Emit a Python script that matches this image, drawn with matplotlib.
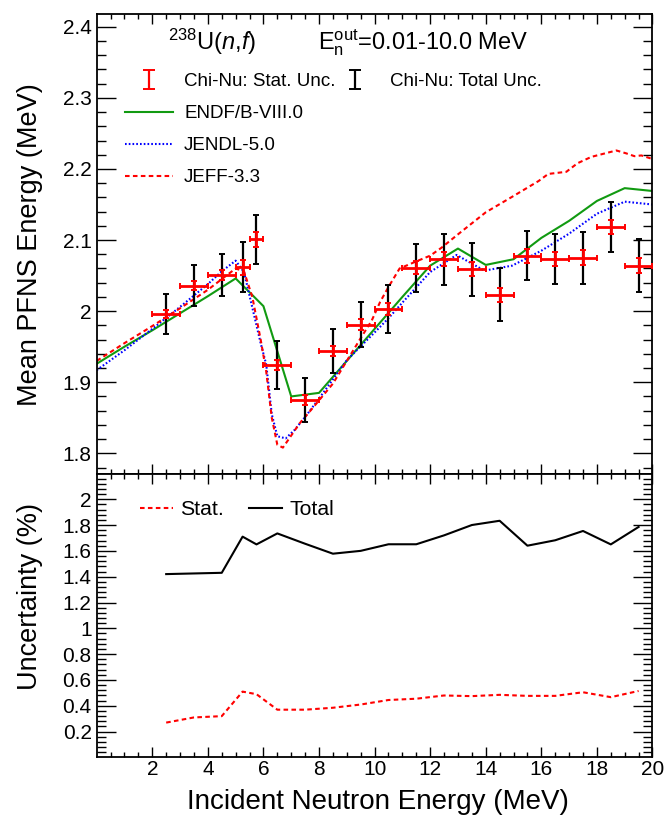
import matplotlib
matplotlib.use("Agg")
import matplotlib.pyplot as plt
from matplotlib.ticker import FixedLocator, FormatStrFormatter
import numpy as np

plt.rcParams["font.family"] = ["Liberation Sans", "DejaVu Sans"]
plt.rcParams["mathtext.fontset"] = "custom"
plt.rcParams["mathtext.rm"] = "Liberation Sans"
plt.rcParams["mathtext.it"] = "Liberation Sans:italic"

# Chi-Nu measured mean PFNS energies
energy = [2.5, 3.5, 4.5, 5.25, 5.75, 6.5, 7.5, 8.5, 9.5, 10.5,
          11.5, 12.5, 13.5, 14.5, 15.5, 16.5, 17.5, 18.5, 19.5]
energy_halfwidth = [0.5, 0.5, 0.5, 0.25, 0.25, 0.5, 0.5, 0.5, 0.5, 0.5,
                    0.5, 0.5, 0.5, 0.5, 0.5, 0.5, 0.5, 0.5, 0.5]
mean_energy = [1.996, 2.036, 2.051, 2.062, 2.101, 1.924, 1.875, 1.944, 1.981, 2.003,
               2.061, 2.073, 2.059, 2.023, 2.078, 2.073, 2.075, 2.118, 2.064]
stat_pct = [0.27, 0.31, 0.32, 0.51, 0.49, 0.37, 0.37, 0.385, 0.41, 0.445,
            0.455, 0.48, 0.475, 0.485, 0.477, 0.477, 0.505, 0.467, 0.515]
total_pct = [1.42, 1.425, 1.43, 1.71, 1.65, 1.735, 1.655, 1.578, 1.60, 1.651,
             1.651, 1.72, 1.80, 1.833, 1.64, 1.682, 1.754, 1.65, 1.785]

# evaluations
e_endf = [0, 1, 2, 3, 4, 5, 6, 7, 8, 9, 10, 11, 12, 13, 14, 15, 16, 17, 18, 19, 20]
v_endf = [1.926, 1.950, 1.973, 1.997, 2.021, 2.046, 2.007, 1.880, 1.885, 1.930, 1.975,
          2.020, 2.064, 2.088, 2.065, 2.073, 2.103, 2.127, 2.155, 2.173, 2.169]

e_jendl = [0, 1, 2, 3, 4, 4.5, 5.0, 5.3, 5.6, 5.9, 6.1, 6.3, 6.5, 6.8, 7.1, 7.5, 8.0,
           9.0, 10.0, 10.5, 11.0, 12.0, 12.95, 13.95, 14.95, 16.0, 17.0, 18.0, 19.0, 20.0]
v_jendl = [1.917, 1.945, 1.975, 2.006, 2.038, 2.056, 2.071, 2.055, 2.005, 1.955, 1.925,
           1.855, 1.824, 1.821, 1.832, 1.851, 1.877, 1.931, 1.970, 1.990, 2.012, 2.055,
           2.079, 2.057, 2.064, 2.085, 2.109, 2.137, 2.154, 2.150]

e_jeff = [0, 1, 2, 3, 4, 4.5, 5.0, 5.3, 5.6, 5.9, 6.1, 6.3, 6.5, 6.7, 7.0, 7.3, 7.8,
          8.5, 9.0, 9.5, 9.9, 10.2, 10.5, 10.9, 11.5, 12.0, 12.4, 13.0, 14.0, 15.0,
          15.9, 16.25, 16.9, 17.3, 17.8, 18.4, 18.7, 19.05, 19.35, 19.6, 20.0]
v_jeff = [1.930, 1.955, 1.979, 2.004, 2.030, 2.045, 2.060, 2.056, 2.020, 1.960, 1.915,
          1.850, 1.812, 1.808, 1.825, 1.842, 1.865, 1.898, 1.930, 1.962, 1.987, 2.013,
          2.034, 2.060, 2.070, 2.078, 2.089, 2.108, 2.139, 2.162, 2.183, 2.193, 2.196,
          2.208, 2.217, 2.223, 2.226, 2.222, 2.218, 2.219, 2.214]

mean_arr = np.array(mean_energy)
stat_err = mean_arr * np.array(stat_pct) / 100
total_err = mean_arr * np.array(total_pct) / 100

fig = plt.figure(figsize=(6.66, 8.18), dpi=100)
ax1 = fig.add_axes([0.1452, 0.4202, 0.8345, 0.5627])
ax2 = fig.add_axes([0.1452, 0.0740, 0.8345, 0.3462])

ax1.plot(e_endf, v_endf, color="#119a11", lw=1.5, label="ENDF/B-VIII.0")
ax1.plot(e_jendl, v_jendl, color="blue", lw=1.5, dashes=(0.8, 1.0), label="JENDL-5.0")
ax1.plot(e_jeff, v_jeff, color="red", lw=1.5, dashes=(2.2, 1.6), label="JEFF-3.3")

ax1.errorbar(energy, mean_energy, yerr=total_err, fmt="none", ecolor="black",
             elinewidth=1.6, capsize=2.5, capthick=1.4, zorder=4)
ax1.errorbar(energy, mean_energy, xerr=energy_halfwidth, yerr=stat_err, fmt="none",
             ecolor="red", elinewidth=2.0, capsize=2.5, capthick=1.4, zorder=5)

# legend proxies
h_stat = ax1.errorbar([np.nan], [np.nan], yerr=[0.01], fmt="none", ecolor="red",
                      elinewidth=1.6, capsize=4.5, capthick=1.4)
h_tot = ax1.errorbar([np.nan], [np.nan], yerr=[0.01], fmt="none", ecolor="black",
                     elinewidth=1.6, capsize=4.5, capthick=1.4)
lines = ax1.get_lines()[:3]

leg_kw = dict(frameon=False, fontsize=13.5, handlelength=2.55, handletextpad=0.6,
              labelspacing=0.8, borderpad=0, borderaxespad=0,
              loc="upper left", bbox_transform=fig.transFigure)
leg1 = ax1.legend([h_stat] + lines,
                  ["Chi-Nu: Stat. Unc.", "ENDF/B-VIII.0", "JENDL-5.0", "JEFF-3.3"],
                  bbox_to_anchor=(125 / 666, 1 - 73 / 818), **leg_kw)
ax1.add_artist(leg1)
ax1.legend([h_tot], ["Chi-Nu: Total Unc."],
           bbox_to_anchor=(331 / 666, 1 - 73 / 818), **leg_kw)

fig.text(168 / 666, 1 - 50 / 818, r"$^{238}$U($n$,$f$)", fontsize=17,
         ha="left", va="baseline")
fig.text(318 / 666, 1 - 49 / 818, r"E$_{\mathrm{n}}^{\mathrm{out}}$=0.01-10.0 MeV",
         fontsize=17, ha="left", va="baseline")

ax1.set_xlim(0, 20)
ax1.set_ylim(1.7705, 2.418)

# bottom panel
ax2.plot(energy, stat_pct, color="red", lw=1.5, dashes=(2.2, 1.6), label="Stat.")
ax2.plot(energy, total_pct, color="black", lw=1.5, label="Total")
ax2.legend(frameon=False, fontsize=15.3, ncol=2, handlelength=1.55, handletextpad=0.33,
           columnspacing=1.2, borderpad=0, borderaxespad=0, loc="upper left",
           bbox_to_anchor=(140 / 666, 1 - 500 / 818), bbox_transform=fig.transFigure)
ax2.set_xlim(0, 20)
ax2.set_ylim(0, 2.193)

# axes styling (ROOT-like)
for ax in (ax1, ax2):
    for sp in ax.spines.values():
        sp.set_linewidth(1.3)
    ax.tick_params(which="both", direction="in", top=True, right=True, width=1.0,
                   labelsize=15)
    ax.xaxis.set_tick_params(which="major", length=7.5, pad=2)
    ax.xaxis.set_tick_params(which="minor", length=3.5)
    ax.yaxis.set_tick_params(which="major", length=13.5, pad=3.6)
    ax.yaxis.set_tick_params(which="minor", length=6.5)
    ax.xaxis.set_major_locator(FixedLocator(np.arange(2, 20.1, 2)))
    ax.xaxis.set_minor_locator(FixedLocator(np.arange(0.5, 20, 0.5)))
    ax.xaxis.set_major_formatter(FormatStrFormatter("%g"))
    ax.yaxis.set_major_formatter(FormatStrFormatter("%g"))

ax1.tick_params(labelbottom=False)
ax1.yaxis.set_major_locator(FixedLocator(np.arange(1.8, 2.41, 0.1)))
ax1.yaxis.set_minor_locator(FixedLocator(np.arange(1.78, 2.42, 0.02)))
ax2.yaxis.set_major_locator(FixedLocator(np.arange(0.2, 2.01, 0.2)))
ax2.yaxis.set_minor_locator(FixedLocator(np.arange(0.04, 2.19, 0.04)))

fig.text(30 / 666, 1 - 245 / 818, "Mean PFNS Energy (MeV)", rotation=90,
         fontsize=19.5, ha="center", va="center")
fig.text(30 / 666, 1 - 597 / 818, "Uncertainty (%)", rotation=90,
         fontsize=19.5, ha="center", va="center")
fig.text(378 / 666, 1 - 802 / 818, "Incident Neutron Energy (MeV)",
         fontsize=20, ha="center", va="center")

fig.savefig("out.png", dpi=100)
plt.close(fig)
